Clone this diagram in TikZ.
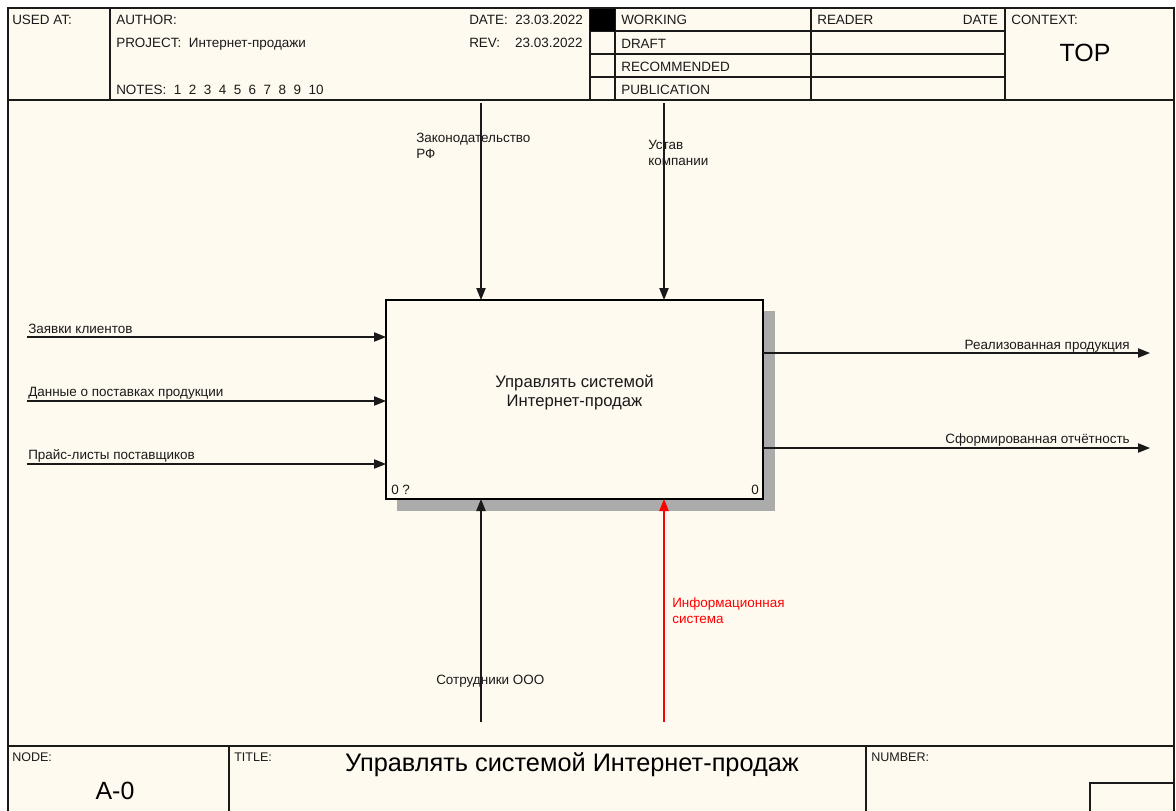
\documentclass[tikz,border=0pt]{standalone}
\usepackage{fontspec}
\setmainfont{Liberation Sans}
\usetikzlibrary{arrows.meta}
\definecolor{paper}{HTML}{FFFAF0}
\definecolor{shadowgray}{HTML}{ABABAB}
\definecolor{ink}{HTML}{1A1A1A}
\definecolor{redline}{HTML}{FF0000}
\tikzset{
  lbl/.style={anchor=base west, inner sep=0pt, text=ink, font=\fontsize{10.1}{12}\selectfont},
  lblr/.style={anchor=base east, inner sep=0pt, text=ink, font=\fontsize{10.1}{12}\selectfont},
  hdr/.style={anchor=base west, inner sep=0pt, text=ink, font=\fontsize{10.1}{12}\selectfont},
  tiny/.style={anchor=base west, inner sep=0pt, text=ink, font=\fontsize{9.4}{11}\selectfont},
  big/.style={anchor=base, inner sep=0pt, text=black, font=\fontsize{18.7}{22}\selectfont},
  grid/.style={draw=ink, line width=0.8pt},
  arr/.style={draw=ink, line width=0.9pt, -{Triangle[length=9pt,width=7pt]}},
  redarr/.style={draw=redline, line width=0.9pt, -{Triangle[length=9pt,width=7pt]}},
  actbox/.style={draw=black, fill=paper, line width=1.6pt, inner sep=0pt, outer sep=0pt,
    minimum width=282.75pt, minimum height=149.25pt},
  acttext/.style={align=center, inner sep=0pt, font=\fontsize{12.5}{14.5}\selectfont, text=ink}
}
\begin{document}
\begin{tikzpicture}[x=0.75pt,y=-0.75pt]
\useasboundingbox (0,0) rectangle (1176,810);
\fill[white] (0,0) rectangle (1176,810);
% paper
\fill[paper] (8,8) rectangle (1174,812);
% header grid
\draw[grid] (8,100) -- (1174,100);
\draw[grid] (110,8) -- (110,100);
\draw[grid] (590,8) -- (590,100);
\draw[grid] (615,8) -- (615,100);
\draw[grid] (811,8) -- (811,100);
\draw[grid] (1005,8) -- (1005,100);
\draw[grid] (590,31) -- (1005,31);
\draw[grid] (590,54) -- (1005,54);
\draw[grid] (590,77) -- (1005,77);
\fill[black] (590,8) rectangle (615,31);
% footer grid
\draw[draw=ink, line width=1.2pt] (8,746) -- (1174,746);
\draw[grid] (229,746) -- (229,812);
\draw[grid] (866,746) -- (866,812);
\draw[grid] (1090,812) -- (1090,783) -- (1174,783);
% outer frame
\draw[draw=ink, line width=1.5pt] (8,812) -- (8,8) -- (1174,8) -- (1174,812);
% header texts
\node[hdr] (usedat) at (12,24) {USED AT:};
\node[hdr] (author) at (116,24) {AUTHOR:};
\node[hdr] (project) at (116,47) {PROJECT:\ \ Интернет-продажи};
\node[hdr] (notes) at (116,94) {NOTES:\ \ 1\ \ 2\ \ 3\ \ 4\ \ 5\ \ 6\ \ 7\ \ 8\ \ 9\ \ 10};
\node[hdr] (date) at (469,24) {DATE:\ \ 23.03.2022};
\node[hdr] (rev) at (469,47) {REV:\ \ \ \ 23.03.2022};
\node[hdr] (working) at (621,24) {WORKING};
\node[hdr] (draft) at (621,48) {DRAFT};
\node[hdr] (recommended) at (621,71) {RECOMMENDED};
\node[hdr] (publication) at (621,94) {PUBLICATION};
\node[hdr] (reader) at (817,24) {READER};
\node[lblr] (rdate) at (998,24) {DATE};
\node[hdr] (context) at (1011,24) {CONTEXT:};
\node[big] (top) at (1085,61) {TOP};
% footer texts
\node[tiny] (nodelbl) at (12,761) {NODE:};
\node[tiny] (titlelbl) at (234,761) {TITLE:};
\node[tiny] (numberlbl) at (871,761) {NUMBER:};
\node[big] (nodeval) at (115,799) {A-0};
\node[big, font=\fontsize{19}{22}\selectfont] (titleval) at (572,771) {Управлять системой Интернет-продаж};
% shadow
\fill[shadowgray] (397,311) rectangle (775,511);
% activity box
\node[actbox] (box) at (574.5,399.5) {};
\node[acttext] (boxtext) at ([yshift=5pt]box.center) {Управлять системой\\Интернет-продаж};
\node[lbl] (n0) at (391,494) {0 ?};
\node[lblr] (n1) at (759,494) {0};
% controls
\coordinate (c1) at (481,103);
\coordinate (c2) at (664,103);
\draw[arr] (c1) -- (c1 |- box.north);
\draw[arr] (c2) -- (c2 |- box.north);
\node[lbl] (c1l) at (416,142) {Законодательство};
\node[lbl] (c1l2) at (416,158) {РФ};
\node[lbl] (c2l) at (648,149) {Устав};
\node[lbl] (c2l2) at (648,165) {компании};
% inputs
\coordinate (i1) at (27,337);
\coordinate (i2) at (27,401);
\coordinate (i3) at (27,464);
\draw[arr] (i1) -- (i1 -| box.west);
\draw[arr] (i2) -- (i2 -| box.west);
\draw[arr] (i3) -- (i3 -| box.west);
\node[lbl] (i1l) at (28,333) {Заявки клиентов};
\node[lbl] (i2l) at (28,396) {Данные о поставках продукции};
\node[lbl] (i3l) at (28,459) {Прайс-листы поставщиков};
% outputs
\coordinate (o1) at (1150,353);
\coordinate (o2) at (1150,448);
\draw[arr] (o1 -| box.east) -- (o1);
\draw[arr] (o2 -| box.east) -- (o2);
\node[lblr] (o1l) at (1130,349) {Реализованная продукция};
\node[lblr] (o2l) at (1130,443) {Сформированная отчётность};
% mechanisms
\coordinate (m1) at (481,722);
\coordinate (m2) at (664,722);
\draw[arr] (m1) -- (m1 |- box.south);
\draw[redarr] (m2) -- (m2 |- box.south);
\node[lbl] (m1l) at (436,684) {Сотрудники ООО};
\node[lbl, text=redline] (m2l) at (672,607) {Информационная};
\node[lbl, text=redline] (m2l2) at (672,623) {система};
\end{tikzpicture}
\end{document}
